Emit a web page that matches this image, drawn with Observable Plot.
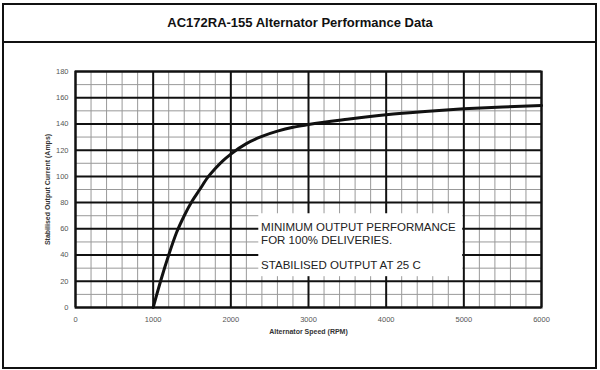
<!DOCTYPE html>
<html>
<head>
<meta charset="utf-8">
<script src="https://cdn.jsdelivr.net/npm/d3@7"></script>
<script src="https://cdn.jsdelivr.net/npm/@observablehq/plot@0.6"></script>
<style>
  html, body { margin: 0; padding: 0; background: #fff; }
  #wrap { position: relative; width: 600px; height: 370px; overflow: hidden; font-family: "Liberation Sans", Arial, sans-serif; }
  #border { position: absolute; left: 2px; top: 3px; width: 591px; height: 362px; border: 2px solid #111; box-sizing: content-box; }
  #sep { position: absolute; left: 2px; top: 41px; width: 595px; height: 2px; background: #111; }
  #title { position: absolute; left: 0; top: 15px; width: 600px; text-align: center; font-weight: bold; font-size: 13px; color: #111; }
  #chart { position: absolute; left: 0; top: 45px; }
</style>
</head>
<body>
<div id="wrap">
  <div id="border"></div>
  <div id="sep"></div>
  <div id="title">AC172RA-155 Alternator Performance Data</div>
  <div id="chart"></div>
</div>
<script>
// Curve: alternator speed (RPM) vs stabilised output current (Amps)
const speedRPM = [1000, 1100, 1200, 1300, 1400, 1500, 1600, 1700, 1800, 1900, 2000, 2200, 2400, 2600, 2800, 3000, 3500, 4000, 4500, 5000, 5500, 6000];
const currentAmps = [0, 21, 40, 57, 70, 81, 90, 99, 106, 112, 117, 125, 130.5, 134.5, 137.5, 139.5, 143.5, 147, 149.5, 151.5, 153, 154];

const xTicks = [0, 1000, 2000, 3000, 4000, 5000, 6000];
const yTicks = [0, 20, 40, 60, 80, 100, 120, 140, 160, 180];
const xMinor = d3.range(0, 6001, 200);
const yMinor = d3.range(0, 181, 10);

const noteLines = ["MINIMUM OUTPUT PERFORMANCE", "FOR 100% DELIVERIES.", "STABILISED OUTPUT AT 25 C"];
const noteY = [61.5, 51, 32];
const noteBox = [{x1: 2360, x2: 4985, y1: 23.5, y2: 71.5}];
const noteX = 2390;

const data = speedRPM.map((s, i) => ({rpm: s, amps: currentAmps[i]}));
const notes = noteLines.map((t, i) => ({t, y: noteY[i]}));

const chart = Plot.plot({
  width: 600,
  height: 325,
  marginLeft: 75,
  marginRight: 59,
  marginTop: 26,
  marginBottom: 63,
  style: {fontFamily: "'Liberation Sans', Arial, sans-serif", background: "transparent"},
  x: {domain: [0, 6000]},
  y: {domain: [0, 180]},
  marks: [
    Plot.ruleX(xMinor.filter(v => v % 1000 !== 0), {stroke: "#999", strokeWidth: 1}),
    Plot.ruleY(yMinor.filter(v => v % 20 !== 0), {stroke: "#999", strokeWidth: 1}),
    Plot.ruleX(xTicks, {stroke: "#111", strokeWidth: 2}),
    Plot.ruleY(yTicks, {stroke: "#111", strokeWidth: 2}),
    Plot.rect(noteBox, {x1: "x1", x2: "x2", y1: "y1", y2: "y2", fill: "#fff"}),
    Plot.text(notes, {x: noteX, y: "y", text: "t", textAnchor: "start", fontSize: 11.5, fill: "#222"}),
    Plot.line(data, {x: "rpm", y: "amps", stroke: "#111", strokeWidth: 3, curve: "monotone-x"}),
    Plot.axisX(xTicks, {tickSize: 0, tickPadding: 9, fontSize: 7.5, color: "#555", tickFormat: d => String(d), label: "Alternator Speed (RPM)", labelAnchor: "center", labelOffset: 26, labelArrow: "none"}),
    Plot.axisY(yTicks, {tickSize: 0, tickPadding: 7, fontSize: 7.5, color: "#555", tickFormat: d => String(d), label: "Stabilised Output Current (Amps)", labelAnchor: "center", labelOffset: 30, labelArrow: "none"}),
    Plot.frame({stroke: "#111", strokeWidth: 2})
  ]
});
chart.querySelectorAll("[aria-label='x-axis label'] text, [aria-label='y-axis label'] text").forEach(t => {
  t.setAttribute("font-weight", "bold");
  t.setAttribute("fill", "#333");
  t.setAttribute("font-size", "7");
});
document.getElementById("chart").appendChild(chart);
</script>
</body>
</html>
